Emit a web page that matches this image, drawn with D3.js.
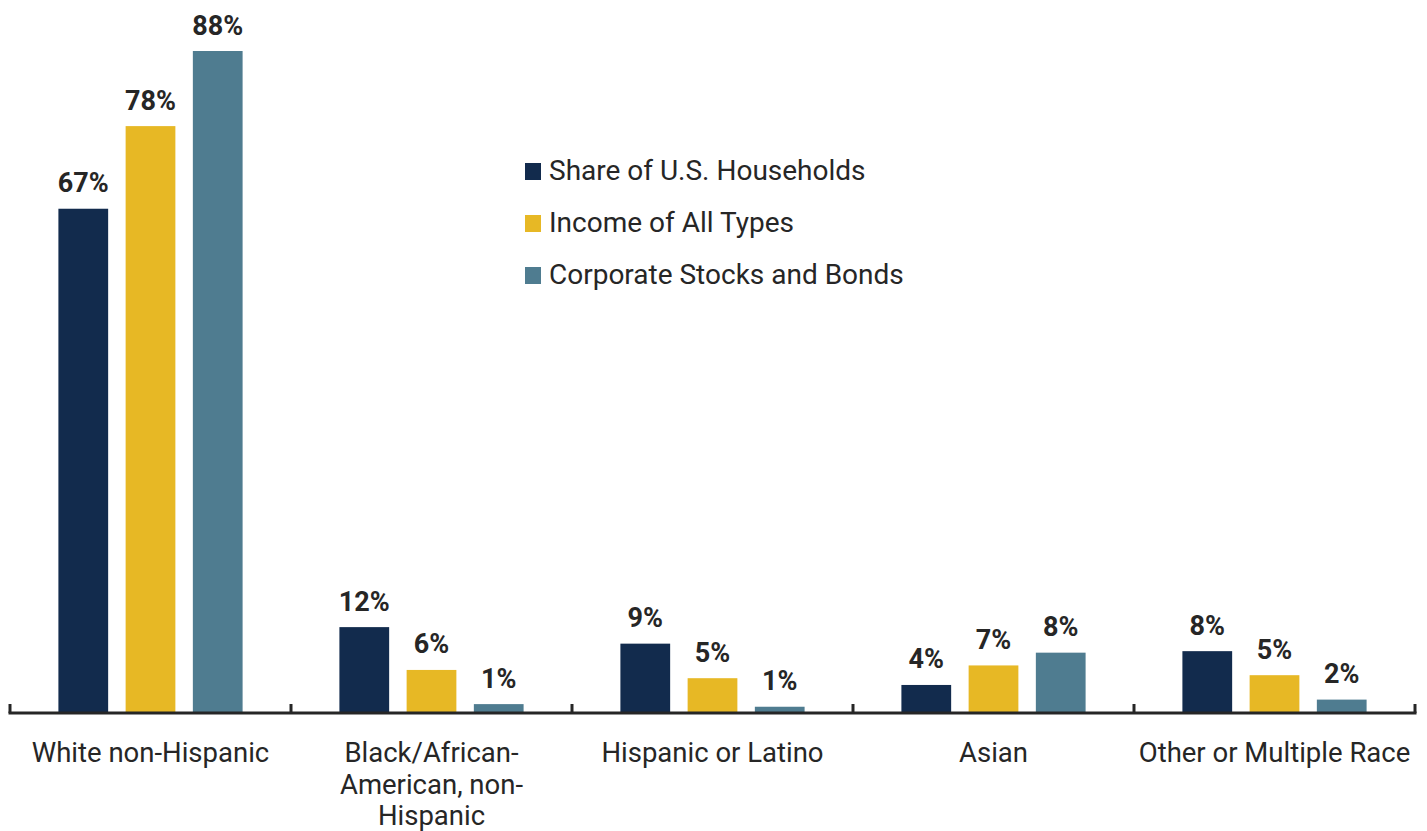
<!DOCTYPE html>
<html>
<head>
<meta charset="utf-8">
<script src="https://cdn.jsdelivr.net/npm/d3@7"></script>
<style>
    body { margin: 0; background: #fff; }
    svg { display: block; font-family: Roboto, 'Noto Sans', sans-serif; }
</style>
</head>
<body>
<svg width="1427" height="831"></svg>
<script>
// Grouped bar chart: share of households, income and stock/bond holdings by race

let svg = d3.select('svg');

// Data
let categories = ['White non-Hispanic', 'Black/African-American, non-Hispanic', 'Hispanic or Latino', 'Asian', 'Other or Multiple Race'];
let series = ['Share of U.S. Households', 'Income of All Types', 'Corporate Stocks and Bonds'];
let households = [67, 11.3, 9.1, 3.6, 8.1];
let income = [78, 5.6, 4.5, 6.2, 4.9];
let stocks = [88, 1.05, 0.7, 7.9, 1.65];
let householdLabels = ['67%', '12%', '9%', '4%', '8%'];
let incomeLabels = ['78%', '6%', '5%', '7%', '5%'];
let stockLabels = ['88%', '1%', '1%', '8%', '2%'];
let colors = ['#122b4d', '#e7b825', '#4f7c90'];

let values = [households, income, stocks];
let labels = [householdLabels, incomeLabels, stockLabels];

// Scales
let x0 = d3.scaleBand()
    .domain(categories)
    .range([10, 1415]);

let x1 = d3.scaleBand()
    .domain(series)
    .range([0, x0.bandwidth()])
    .paddingInner(0.26)
    .paddingOuter(0.72);

let y = d3.scaleLinear()
    .domain([0, 88])
    .range([712, 51]);

let color = d3.scaleOrdinal().domain(series).range(colors);

// Build rows for the bars
let rows = [];
categories.forEach((c, i) => {
    series.forEach((s, j) => {
        rows.push({category: c, series: s, value: values[j][i], label: labels[j][i]});
    });
});

// Bars
let bars = svg.append('g').selectAll('g')
    .data(rows)
    .enter().append('g')
    .attr('transform', d => 'translate(' + (x0(d.category) + x1(d.series)) + ',0)');

bars.append('rect')
    .attr('y', d => y(d.value))
    .attr('width', x1.bandwidth())
    .attr('height', d => y(0) - y(d.value))
    .style('fill', d => color(d.series));

bars.append('text')
    .attr('x', x1.bandwidth() / 2)
    .attr('y', d => y(d.value) - 16.5)
    .attr('text-anchor', 'middle')
    .attr('font-size', '27px')
    .attr('font-weight', 'bold')
    .attr('fill', '#262626')
    .text(d => d.label);

// Axis line with upward ticks at band edges
let axis = svg.append('g');
let edges = categories.map(c => x0(c)).concat([x0.range()[1]]);

axis.append('line')
    .attr('x1', x0.range()[0] - 1.5)
    .attr('x2', x0.range()[1] + 1.5)
    .attr('y1', 713)
    .attr('y2', 713)
    .attr('stroke', '#262626')
    .attr('stroke-width', 3);

axis.selectAll('.tick')
    .data(edges)
    .enter().append('line')
    .attr('class', 'tick')
    .attr('x1', d => d)
    .attr('x2', d => d)
    .attr('y1', 713)
    .attr('y2', 704)
    .attr('stroke', '#262626')
    .attr('stroke-width', 3);

// Category labels, wrapped to the band width
let catLabels = axis.selectAll('.cat')
    .data(categories)
    .enter().append('text')
    .attr('class', 'cat')
    .attr('x', d => x0(d) + x0.bandwidth() / 2)
    .attr('y', 762)
    .attr('text-anchor', 'middle')
    .attr('font-size', '27.5px')
    .attr('fill', '#262626')
    .text(d => d);

catLabels.each(function(d) { wrap(d3.select(this), x0.bandwidth() - 2); });

// Legend
let legend = svg.append('g')
    .selectAll('g')
    .data(series)
    .enter().append('g')
    .attr('transform', (d, i) => 'translate(525,' + (163 + i * 52) + ')');

legend.append('rect')
    .attr('width', 16)
    .attr('height', 17)
    .style('fill', d => color(d));

legend.append('text')
    .attr('x', 24)
    .attr('y', 17)
    .attr('font-size', '28px')
    .attr('fill', '#262626')
    .text(d => d);

// Break text into lines after spaces or hyphens
function wrap(text, width) {
    let words = text.text().match(/[^\s-]+-?/g);
    let lineHeight = 31.5;
    let xPos = text.attr('x');
    let yPos = +text.attr('y');
    text.text(null);
    let lines = [];
    let current = '';
    words.forEach(w => {
        let sep = current === '' || current.endsWith('-') ? '' : ' ';
        let attempt = current + sep + w;
        let probe = text.append('tspan').text(attempt);
        let len = probe.node().getComputedTextLength();
        probe.remove();
        if (len > width && current !== '') {
            lines.push(current);
            current = w;
        } else {
            current = attempt;
        }
    });
    lines.push(current);
    lines.forEach((l, i) => {
        text.append('tspan')
            .attr('x', xPos)
            .attr('y', yPos + i * lineHeight)
            .text(l);
    });
}
</script>
</body>
</html>
